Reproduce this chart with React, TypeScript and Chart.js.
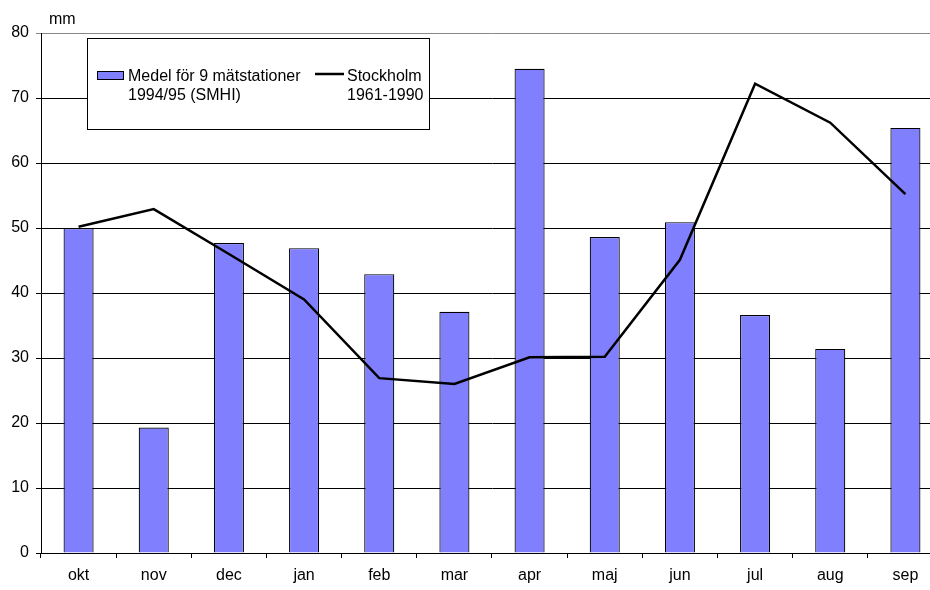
import React, { useEffect, useRef } from "react";
import { Chart, registerables } from "chart.js";

Chart.register(...registerables);

const months = ["okt", "nov", "dec", "jan", "feb", "mar", "apr", "maj", "jun", "jul", "aug", "sep"];
const medel = [50.0, 19.3, 47.7, 46.9, 42.9, 37.1, 74.5, 48.6, 50.9, 36.6, 31.4, 65.4];
const stockholm = [50.2, 52.9, 46.0, 39.0, 26.9, 26.0, 30.1, 30.2, 45.1, 72.2, 66.2, 55.2];
const yTicks = [0, 10, 20, 30, 40, 50, 60, 70, 80];
const unitLabel = "mm";
const legendBar = ["Medel för 9 mätstationer", "1994/95 (SMHI)"];
const legendLine = ["Stockholm", "1961-1990"];

const FAMILY = "'Liberation Sans', Arial, sans-serif";
const FONT = "16px " + FAMILY;
const BAR_COLOR = "#8080FF";

const overlay = {
  id: "overlay",
  afterDraw(chart: any) {
    const ctx = chart.ctx;
    ctx.save();
    ctx.font = FONT;
    ctx.fillStyle = "#000";
    ctx.textBaseline = "middle";
    ctx.textAlign = "left";
    ctx.fillText(unitLabel, 49, 20);

    // legend box
    ctx.fillStyle = "#fff";
    ctx.fillRect(87.5, 38.5, 342, 91);
    ctx.strokeStyle = "#000";
    ctx.lineWidth = 1;
    ctx.strokeRect(87.5, 38.5, 342, 91);

    ctx.fillStyle = BAR_COLOR;
    ctx.fillRect(97.5, 71.5, 26, 8);
    ctx.strokeRect(97.5, 71.5, 26, 8);

    ctx.fillStyle = "#000";
    ctx.fillText(legendBar[0], 128, 77);
    ctx.fillText(legendBar[1], 128, 96);

    ctx.beginPath();
    ctx.lineWidth = 2.5;
    ctx.moveTo(315, 74);
    ctx.lineTo(344, 74);
    ctx.stroke();
    ctx.fillText(legendLine[0], 347, 77);
    ctx.fillText(legendLine[1], 347, 96);
    ctx.restore();
  },
};

export default function App() {
  const ref = useRef<HTMLCanvasElement>(null);
  useEffect(() => {
    if (!ref.current) return;
    const chart = new Chart(ref.current, {
      type: "bar",
      data: {
        labels: months,
        datasets: [
          {
            type: "line",
            label: "Stockholm 1961-1990",
            data: stockholm,
            borderColor: "#000",
            borderWidth: 2.5,
            pointRadius: 0,
            tension: 0,
            fill: false,
            order: 0,
          } as any,
          {
            type: "bar",
            label: "Medel för 9 mätstationer 1994/95 (SMHI)",
            data: medel,
            backgroundColor: BAR_COLOR,
            borderColor: "#000",
            borderWidth: 1.2,
            barPercentage: 0.4,
            categoryPercentage: 1,
            order: 1,
          },
        ],
      },
      options: {
        animation: false,
        responsive: false,
        devicePixelRatio: 1,
        layout: { padding: { left: 0, right: 7, top: 33, bottom: 0 } },
        plugins: { legend: { display: false }, tooltip: { enabled: false } },
        scales: {
          x: {
            offset: true,
            grid: {
              display: true,
              drawOnChartArea: false,
              drawTicks: true,
              tickLength: 5,
              offset: true,
              color: "#000",
            },
            border: { display: true, color: "#000", width: 1 },
            ticks: { color: "#000", font: { family: FAMILY, size: 16 }, padding: 8, maxRotation: 0 },
            afterFit(scale: any) {
              scale.height = 37;
            },
          },
          y: {
            min: 0,
            max: 80,
            afterBuildTicks(scale: any) {
              scale.ticks = yTicks.map((v) => ({ value: v }));
            },
            grid: {
              color: (c: any) => (c.tick && c.tick.value === 80 ? "#888" : "#000"),
              lineWidth: 1,
              drawTicks: true,
              tickLength: 5,
            },
            border: { display: true, color: "#000", width: 1 },
            ticks: { color: "#000", font: { family: FAMILY, size: 16 }, padding: 7 },
            afterFit(scale: any) {
              scale.width = 41;
            },
          },
        },
      },
      plugins: [overlay],
    });
    return () => chart.destroy();
  }, []);
  return (
    <div style={{ position: "fixed", left: 0, top: 0, width: 930, height: 590, overflow: "hidden", background: "#fff" }}>
      <canvas ref={ref} width={950} height={590} style={{ display: "block" }} />
    </div>
  );
}
